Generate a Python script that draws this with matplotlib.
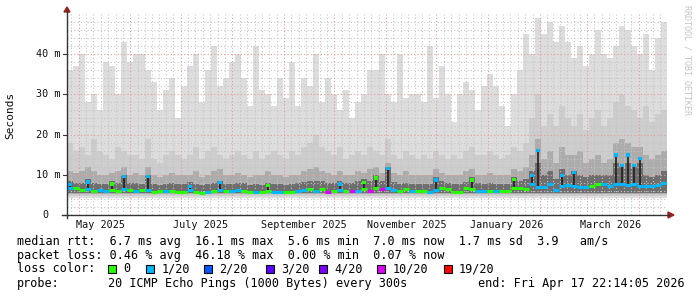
import numpy as np
import matplotlib
matplotlib.use('Agg')
import matplotlib.pyplot as plt
import matplotlib.dates as mdates
from matplotlib.lines import Line2D
from matplotlib.patches import Polygon, Rectangle
from datetime import datetime, timedelta

plt.rcParams['font.family'] = ['DejaVu Sans Mono']

# time range of the graph
end_time = datetime(2026, 4, 17, 22, 14, 5)
start_time = end_time - timedelta(days=358.9)

# smoke envelope per bin (ms): max ping, upper layers
hi_ms = [36, 37, 40, 28, 30, 26, 38, 37, 30, 43,
         38, 40, 40, 36, 33, 26, 31, 34, 24, 32,
         37, 40, 28, 36, 42, 32, 34, 38, 40, 34,
         27, 42, 31, 30, 27, 34, 29, 38, 27, 34,
         32, 40, 28, 34, 30, 26, 31, 24, 28, 30,
         36, 36, 40, 30, 28, 40, 29, 30, 30, 28,
         42, 29, 37, 30, 23, 30, 33, 31, 26, 32,
         35, 32, 27, 22, 30, 36, 45, 40, 49, 45,
         48, 43, 47, 43, 39, 42, 37, 40, 46, 40,
         39, 42, 47, 46, 42, 40, 45, 36, 44, 48]
mid_ms = [18, 16, 17, 15, 19, 16, 15, 14, 17, 16,
          15, 15, 14, 19, 14, 13, 15, 16, 15, 14,
          15, 17, 14, 16, 17, 15, 14, 15, 16, 15,
          14, 16, 14, 15, 16, 15, 14, 16, 15, 17,
          18, 20, 17, 16, 15, 17, 14, 15, 16, 15,
          17, 16, 15, 19, 15, 14, 16, 15, 14, 15,
          14, 16, 15, 14, 15, 14, 16, 17, 15, 15,
          16, 15, 14, 15, 17, 16, 18, 24, 30, 22,
          25, 22, 27, 24, 22, 25, 21, 24, 26, 22,
          24, 28, 30, 27, 26, 24, 27, 23, 25, 26]
low_ms = [11, 10.5, 11, 12, 11, 10, 10, 10.5, 11, 12,
          10, 10.5, 10, 12, 10, 9.5, 10, 10.5, 10, 10,
          10, 11, 9.5, 10, 11, 11.5, 10, 10, 10.5, 10,
          9.5, 10, 10, 11, 10, 10, 9.5, 10, 10, 11,
          11.5, 12, 11, 10.5, 10, 11, 10, 10, 11, 10.5,
          11.5, 12, 10.5, 13, 10.5, 10, 11, 10, 10, 10,
          10, 11.5, 10.5, 10, 10, 10, 11, 11.5, 10, 10,
          10.5, 10, 10, 10, 11.5, 11, 12, 15, 19, 14,
          16, 13, 17, 15, 15, 16, 13, 14, 15, 13,
          14, 18, 19, 18, 17, 17, 15, 14, 15, 16]
dark_ms = [8.5, 8, 8, 9, 8, 7.8, 7.8, 8.5, 8, 10,
           8, 8, 7.8, 10, 7.8, 7.5, 7.8, 8, 7.8, 7.8,
           8.2, 7.8, 7.5, 7.8, 8, 8.5, 7.8, 7.8, 8, 8,
           7.5, 7.8, 7.5, 8, 7.8, 7.8, 7.5, 7.8, 8, 8.2,
           8.5, 8.5, 8.5, 8, 8, 8.5, 8, 8, 8.5, 9,
           8.5, 10, 8.5, 12, 8.2, 7.8, 8, 7.8, 7.8, 7.8,
           7.8, 9.5, 8.5, 8, 7.8, 7.8, 8.2, 9.5, 8, 7.8,
           8, 7.8, 7.8, 7.8, 9.5, 8.5, 9, 11, 13, 10,
           11, 9, 11.5, 10, 11, 10, 9.5, 10, 10, 10,
           10, 13, 12, 13, 12, 13, 10, 9.5, 10, 11]
floor_ms = [4.3, 4.7, 5.1, 5.5]

# median rtt per bin (ms) and lost pings out of 20
median_ms = [6.8, 6.6, 6.3, 6.5, 5.9, 6.2, 6.0, 6.2, 6.0, 6.4,
             6.2, 6.0, 6.1, 6.3, 5.8, 5.9, 6.0, 5.9, 5.8, 5.8,
             6.2, 5.6, 5.5, 5.8, 6.0, 6.2, 6.0, 6.0, 6.2, 6.0,
             5.7, 5.6, 5.6, 6.0, 5.8, 5.8, 5.7, 5.8, 5.9, 6.2,
             6.5, 6.0, 6.4, 5.8, 6.0, 6.3, 5.9, 5.9, 6.0, 6.4,
             6.0, 6.8, 6.5, 6.6, 6.2, 6.0, 6.5, 6.0, 6.0, 6.0,
             5.8, 6.3, 6.8, 6.5, 5.8, 5.8, 6.6, 6.5, 6.0, 6.0,
             6.0, 6.0, 6.0, 6.0, 6.8, 6.8, 6.5, 7.8, 7.0, 7.0,
             7.6, 6.2, 7.2, 7.4, 7.2, 7.0, 7.0, 7.3, 7.6, 7.8,
             7.2, 7.8, 7.6, 7.4, 7.8, 7.2, 7.3, 7.3, 7.5, 8.0]
loss = [1, 0, 0, 1, 0, 1, 1, 0, 0, 1,
        0, 1, 0, 1, 0, 0, 1, 0, 0, 0,
        1, 0, 0, 1, 0, 1, 0, 1, 1, 0,
        0, 1, 0, 0, 1, 1, 0, 0, 1, 1,
        0, 1, 0, 10, 0, 1, 0, 10, 1, 0,
        10, 0, 10, 1, 1, 0, 0, 1, 0, 0,
        1, 1, 0, 0, 0, 0, 0, 0, 1, 1,
        0, 1, 0, 0, 0, 0, 0, 1, 1, 1,
        1, 1, 1, 1, 1, 1, 1, 0, 0, 1,
        1, 1, 1, 1, 1, 1, 1, 1, 1, 1]

# short median spikes: bin, height (ms), lost pings
spike_bin = [0, 3, 7, 9, 13, 20, 25, 33, 45, 49, 51, 53, 61, 67, 74,
             77, 78, 82, 84, 91, 92, 93, 94, 95]
spike_ms = [7.5, 8.2, 7.7, 9.6, 9.6, 7.0, 8.0, 7.3, 7.7, 8.0, 9.2, 11.5, 8.7, 8.7, 8.8,
            9.9, 16.0, 9.9, 10.5, 14.9, 12.4, 14.9, 12.4, 14.0]
spike_loss = [1, 1, 0, 1, 1, 1, 1, 0, 1, 0, 0, 1, 1, 0, 0,
              1, 1, 1, 1, 1, 1, 1, 1, 1]

loss_colors = {0: '#26ff00', 1: '#00b8ff', 2: '#0059ff', 3: '#5e00ff',
               4: '#7e00ff', 10: '#dd00ff', 19: '#ff0000'}
legend_loss = [0, 1, 2, 3, 4, 10, 19]

W, H = 697, 297
fig = plt.figure(figsize=(W / 100, H / 100), dpi=100)
fig.patch.set_facecolor('white')


def fx(px):
    return px / W


def fy(py):
    return 1 - py / H


ax_left, ax_right, ax_bottom, ax_top = 67, 667, 215, 215 - 50 * 4.025
ax = fig.add_axes([fx(ax_left), fy(ax_bottom), (ax_right - ax_left) / W, (ax_bottom - ax_top) / H])
ax.set_facecolor('white')
for s in ax.spines.values():
    s.set_visible(False)
ax.set_xticks([])
ax.set_yticks([])

t0 = mdates.date2num(start_time)
t1 = mdates.date2num(end_time)
n = len(hi_ms)
edges = np.linspace(t0, t1, n + 1)
centers = (edges[:-1] + edges[1:]) / 2
ax.set_xlim(t0, t1)
ax.set_ylim(0, 50)


def step(vals):
    v = np.asarray(vals, dtype=float)
    return np.append(v, v[-1])


layers = [(hi_ms, '#dddddd'), (mid_ms, '#cdcdcd'), (low_ms, '#acacac'), (dark_ms, '#6e6e6e')]
for (vals, col), fl in zip(layers, floor_ms):
    ax.fill_between(edges, fl, step(vals), step='post', color=col, linewidth=0, zorder=1)

# grid
for v in range(2, 50, 2):
    if v % 10:
        ax.axhline(v, color='#c4c4c4', lw=0.8, ls=(0, (1, 2)), zorder=2)
for v in (10, 20, 30, 40):
    ax.axhline(v, color='#e49a9a', lw=0.8, ls=(0, (1, 2)), zorder=2)

months = [datetime(2025, m, 1) for m in range(4, 13)] + [datetime(2026, m, 1) for m in range(1, 6)]
for m0, m1 in zip(months[:-1], months[1:]):
    a, b = mdates.date2num(m0), mdates.date2num(m1)
    for k in range(7):
        t = a + k * (b - a) / 7
        if t0 < t < t1:
            col = '#e49a9a' if k == 0 else '#c4c4c4'
            ax.axvline(t, color=col, lw=0.8, ls=(0, (1, 2)), zorder=2)

# median line
ax.hlines(median_ms, edges[:-1], edges[1:], colors=[loss_colors[l] for l in loss],
          linewidth=2.2, zorder=5)
sx = centers[spike_bin]
sb = np.asarray(median_ms)[spike_bin]
ax.vlines(sx, sb, spike_ms, color='#1e1e1e', lw=1.2, zorder=4)
ax.scatter(sx, spike_ms, marker='s', s=5, c=[loss_colors[l] for l in spike_loss],
           linewidths=0, zorder=6)

# x labels
xlab_dates = [datetime(2025, 5, 14), datetime(2025, 7, 13), datetime(2025, 9, 13),
              datetime(2025, 11, 13), datetime(2026, 1, 12), datetime(2026, 3, 15)]
xlab_text = ['May 2025', 'July 2025', 'September 2025', 'November 2025', 'January 2026', 'March 2026']
for d, s in zip(xlab_dates, xlab_text):
    ax.text(mdates.date2num(d), -10 / (ax_bottom - ax_top), s, transform=ax.get_xaxis_transform(),
            ha='center', va='center', fontsize=7.3, color='#111111')

# y labels
ytick_vals = [0, 10, 20, 30, 40]
ytick_text = ['0', '10 m', '20 m', '30 m', '40 m']
for v, s in zip(ytick_vals, ytick_text):
    xr = 48.5 if v == 0 else 60
    fig.text(fx(xr), fy(ax_bottom - v * 4.025), s, ha='right', va='center', fontsize=7.3, color='#111111')
    fig.add_artist(Line2D([fx(63), fx(67)], [fy(ax_bottom - v * 4.025)] * 2, color='#333333', lw=0.8))

# axes with arrows
fig.add_artist(Line2D([fx(67), fx(67)], [fy(218), fy(11)], color='#333333', lw=1.0))
fig.add_artist(Line2D([fx(62), fx(669)], [fy(215), fy(215)], color='#333333', lw=1.0))
fig.add_artist(Polygon([[fx(64), fy(12)], [fx(70), fy(12)], [fx(67), fy(7)]], closed=True,
                       color='#9a2020', transform=fig.transFigure))
fig.add_artist(Polygon([[fx(668), fy(212)], [fx(668), fy(218)], [fx(674), fy(215)]], closed=True,
                       color='#9a2020', transform=fig.transFigure))

fig.text(fx(10.5), fy(115), 'Seconds', rotation=90, ha='center', va='center', fontsize=8, color='#111111')
fig.text(fx(687.5), fy(60), 'RRDTOOL / TOBI OETIKER', rotation=270, ha='center', va='center',
         fontsize=6, color='#c4c4c4')

# legend
fs = 8.5
fig.text(fx(16.9), fy(241), 'median rtt:  6.7 ms avg  16.1 ms max  5.6 ms min  7.0 ms now  1.7 ms sd  3.9   am/s',
         fontsize=fs, va='center')
fig.text(fx(16.9), fy(255), 'packet loss: 0.46 % avg  46.18 % max  0.00 % min  0.07 % now',
         fontsize=fs, va='center')
fig.text(fx(16.9), fy(269), 'loss color:', fontsize=fs, va='center')
box_x = [108, 145.8, 203.6, 265.8, 319.1, 376.9, 443.6]
for bx, l in zip(box_x, legend_loss):
    fig.add_artist(Rectangle((fx(bx), fy(273)), 8 / W, 8 / H, transform=fig.transFigure,
                             facecolor=loss_colors[l], edgecolor='black', lw=0.8))
    lab = '0' if l == 0 else '%d/20' % l
    fig.text(fx(bx + 15.5), fy(269), lab, fontsize=fs, va='center')
fig.text(fx(16.9), fy(283), 'probe:', fontsize=fs, va='center')
fig.text(fx(108), fy(283), '20 ICMP Echo Pings (1000 Bytes) every 300s', fontsize=fs, va='center')
fig.text(fx(478), fy(283), 'end: Fri Apr 17 22:14:05 2026', fontsize=fs, va='center')

fig.savefig('out.png', dpi=100)
